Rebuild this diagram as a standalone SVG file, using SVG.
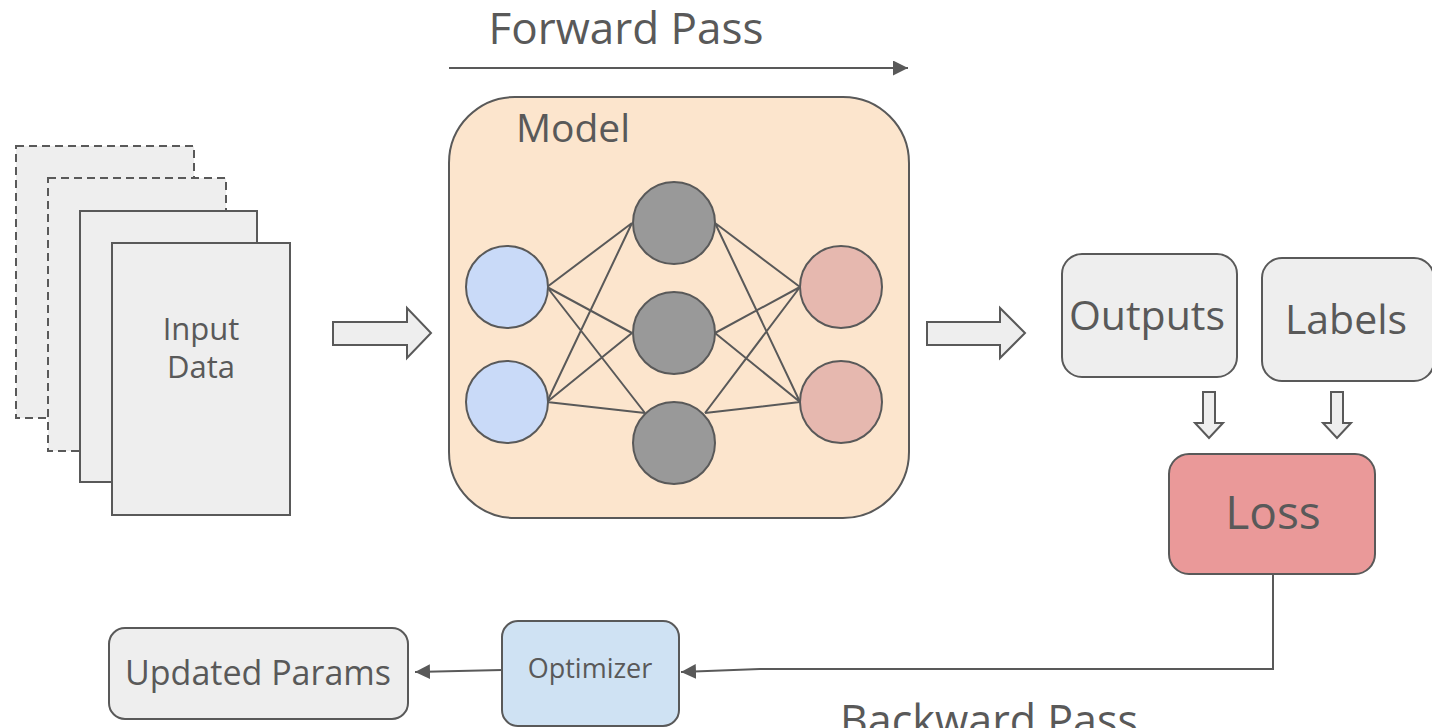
<svg xmlns="http://www.w3.org/2000/svg" width="1432" height="728" viewBox="0 0 1432 728">
  <style>
    .lbl { font-family: "Open Sans", "Liberation Sans", sans-serif; fill: #595959; text-anchor: middle; }
    .paper { fill: #eeeeee; stroke: #595959; stroke-width: 2; }
    .dashed { stroke-dasharray: 8 5; }
    .box { stroke: #595959; stroke-width: 2; }
    .grey { fill: #eeeeee; }
    .neuron { stroke: #595959; stroke-width: 2; }
    .in { fill: #c9daf8; }
    .hid { fill: #999999; }
    .out { fill: #e6b8af; }
    .edge { stroke: #595959; stroke-width: 2; fill: none; }
    .line { stroke: #595959; stroke-width: 2; fill: none; }
    .block { fill: #eeeeee; stroke: #595959; stroke-width: 2; stroke-linejoin: miter; }
  </style>
  <defs>
    <marker id="head" markerWidth="16" markerHeight="16" refX="15" refY="7.5" orient="auto" markerUnits="userSpaceOnUse">
      <path d="M0,0 L15,7.5 L0,15 Z" fill="#595959"/>
    </marker>
  </defs>

  <rect width="1432" height="728" fill="#ffffff"/>

  <!-- stack of input pages -->
  <g id="input-data">
    <rect class="paper dashed" x="16" y="146" width="178" height="272"/>
    <rect class="paper dashed" x="48" y="178" width="178" height="273"/>
    <rect class="paper" x="80" y="211" width="177" height="271"/>
    <rect class="paper" x="112" y="243" width="178" height="272"/>
    <text class="lbl" x="201" y="340" font-size="31">Input</text>
    <text class="lbl" x="201" y="378" font-size="31">Data</text>
  </g>

  <!-- model container with a small network -->
  <g id="model">
    <rect class="box" x="449" y="97" width="460" height="421" rx="66" ry="66" fill="#fce5cd"/>
    <text class="lbl" x="573" y="142" font-size="39">Model</text>
    <g id="network-edges">
      <path class="edge" d="M547,287 L632,223 M547,287 L632,333 M547,287 L645,413
                            M547,402 L632,223 M547,402 L632,333 M547,402 L645,413
                            M715,223 L800,287 M715,223 L800,402
                            M715,333 L800,287 M715,333 L800,402
                            M705,413 L800,287 M705,413 L800,402"/>
    </g>
    <circle class="neuron in" cx="507" cy="287" r="41"/>
    <circle class="neuron in" cx="507" cy="402" r="41"/>
    <circle class="neuron hid" cx="674" cy="223" r="41"/>
    <circle class="neuron hid" cx="674" cy="333" r="41"/>
    <circle class="neuron hid" cx="674" cy="443" r="41"/>
    <circle class="neuron out" cx="841" cy="287" r="41"/>
    <circle class="neuron out" cx="841" cy="402" r="41"/>
  </g>

  <g id="outputs">
    <rect class="box grey" x="1062" y="254" width="175" height="123" rx="20" ry="20"/>
    <text class="lbl" x="1147" y="330" font-size="41">Outputs</text>
  </g>

  <g id="labels">
    <rect class="box grey" x="1262" y="258" width="172" height="123" rx="20" ry="20"/>
    <text class="lbl" x="1346" y="334" font-size="41">Labels</text>
  </g>

  <g id="loss">
    <rect class="box" x="1169" y="454" width="206" height="120" rx="20" ry="20" fill="#ea9999"/>
    <text class="lbl" x="1273" y="529" font-size="46">Loss</text>
  </g>

  <g id="optimizer">
    <rect class="box" x="502" y="621" width="177" height="105" rx="16" ry="16" fill="#cfe2f3"/>
    <text class="lbl" x="590" y="678" font-size="27">Optimizer</text>
  </g>

  <g id="updated-params">
    <rect class="box grey" x="109" y="628" width="299" height="91" rx="16" ry="16"/>
    <text class="lbl" x="258" y="685" font-size="34">Updated Params</text>
  </g>

  <!-- pass titles -->
  <text class="lbl" x="626" y="44" font-size="44">Forward Pass</text>
  <text class="lbl" x="989" y="736" font-size="43">Backward Pass</text>

  <g id="connectors">
    <line class="line" x1="449" y1="68" x2="908" y2="68" marker-end="url(#head)"/>
    <polygon class="block" points="333,322 407,322 407,308 431,333 407,358 407,345 333,345"/>
    <polygon class="block" points="927,322 1000,322 1000,308 1025,333 1000,358 1000,345 927,345"/>
    <polygon class="block" points="1203,392 1215,392 1215,423 1223,423 1209,438 1195,423 1203,423"/>
    <polygon class="block" points="1331,392 1343,392 1343,423 1351,423 1337,438 1323,423 1331,423"/>
    <polyline class="line" points="1273,574 1273,669 760,669 681,672" marker-end="url(#head)"/>
    <line class="line" x1="502" y1="670" x2="415" y2="672" marker-end="url(#head)"/>
  </g>
</svg>
